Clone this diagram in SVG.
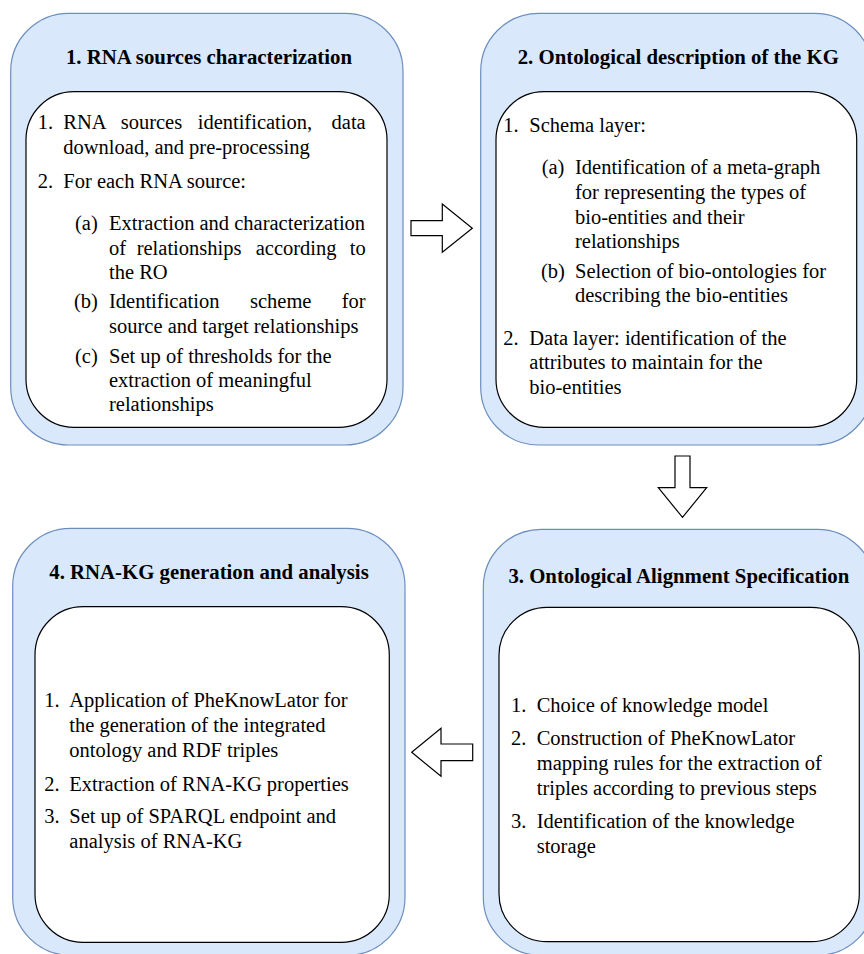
<svg xmlns="http://www.w3.org/2000/svg" width="864" height="954" viewBox="0 0 864 954">
<style>
.outer{fill:#dae8fc;stroke:#6c8ebf;stroke-width:1.2}
.inner{fill:#ffffff;stroke:#000000;stroke-width:1.2}
.title{font-family:"Liberation Serif","Times New Roman",serif;font-weight:bold;font-size:20.8px;fill:#000;text-anchor:middle}
.t{font-family:"Liberation Serif","Times New Roman",serif;font-size:20.5px;fill:#000}
.e{text-anchor:end}
.arrow{fill:#ffffff;stroke:#000000;stroke-width:1.2}
</style>
<rect width="864" height="954" fill="#ffffff"/>
<g id="n1">
<rect class="outer" x="10.7" y="13.3" width="392.3" height="431.7" rx="58"/>
<rect class="inner" x="26" y="91.7" width="361" height="335.6" rx="48"/>
<text class="title" x="209" y="63.5">1. RNA sources characterization</text>
<text class="t" y="129.3"><tspan x="37.7">1.</tspan><tspan x="63.3">RNA</tspan><tspan x="120.7">sources</tspan><tspan x="197.7">identification,</tspan><tspan class="e" x="365.7">data</tspan></text>
<text class="t" x="63.3" y="154">download, and pre-processing</text>
<text class="t" y="188.3"><tspan x="37.7">2.</tspan><tspan x="63.3">For each RNA source:</tspan></text>
<text class="t" y="230"><tspan x="75">(a)</tspan><tspan x="109">Extraction and characterization</tspan></text>
<text class="t" y="255"><tspan x="109">of</tspan><tspan x="136.7">relationships</tspan><tspan x="255.7">according</tspan><tspan class="e" x="365.7">to</tspan></text>
<text class="t" x="109" y="279.3">the RO</text>
<text class="t" y="308.3"><tspan x="74">(b)</tspan><tspan x="109">Identification</tspan><tspan x="250">scheme</tspan><tspan class="e" x="365.7">for</tspan></text>
<text class="t" x="109" y="333.3">source and target relationships</text>
<text class="t" y="362.7"><tspan x="75">(c)</tspan><tspan x="109">Set up of thresholds for the</tspan></text>
<text class="t" x="109" y="387.3">extraction of meaningful</text>
<text class="t" x="109" y="411">relationships</text>
</g>
<g id="n2">
<rect class="outer" x="480.7" y="13.3" width="392" height="431.7" rx="58"/>
<rect class="inner" x="496" y="91.7" width="360.7" height="335.6" rx="48"/>
<text class="title" x="678.3" y="64">2. Ontological description of the KG</text>
<text class="t" y="132.3"><tspan x="503.3">1.</tspan><tspan x="529.3">Schema layer:</tspan></text>
<text class="t" y="174"><tspan x="541.7">(a)</tspan><tspan x="575">Identification of a meta-graph</tspan></text>
<text class="t" x="575" y="199">for representing the types of</text>
<text class="t" x="575" y="223.7">bio-entities and their</text>
<text class="t" x="575" y="248">relationships</text>
<text class="t" y="277.7"><tspan x="541">(b)</tspan><tspan x="575">Selection of bio-ontologies for</tspan></text>
<text class="t" x="575" y="302.3">describing the bio-entities</text>
<text class="t" y="345"><tspan x="503.3">2.</tspan><tspan x="529.3">Data layer: identification of the</tspan></text>
<text class="t" x="529.3" y="369.3">attributes to maintain for the</text>
<text class="t" x="529.3" y="394">bio-entities</text>
</g>
<g id="n3">
<rect class="outer" x="483.3" y="529.3" width="392" height="426" rx="58"/>
<rect class="inner" x="499" y="607.3" width="360.3" height="334.4" rx="48"/>
<text class="title" x="678.8" y="582.7">3. Ontological Alignment Specification</text>
<text class="t" y="711.7"><tspan x="511">1.</tspan><tspan x="536.7">Choice of knowledge model</tspan></text>
<text class="t" y="745"><tspan x="511">2.</tspan><tspan x="536.7">Construction of PheKnowLator</tspan></text>
<text class="t" x="536.7" y="770">mapping rules for the extraction of</text>
<text class="t" x="536.7" y="795">triples according to previous steps</text>
<text class="t" y="828.3"><tspan x="511">3.</tspan><tspan x="536.7">Identification of the knowledge</tspan></text>
<text class="t" x="536.7" y="852.7">storage</text>
</g>
<g id="n4">
<rect class="outer" x="12.7" y="528.3" width="392.3" height="427" rx="58"/>
<rect class="inner" x="35" y="606.7" width="354.3" height="335.6" rx="48"/>
<text class="title" x="209" y="579.3">4. RNA-KG generation and analysis</text>
<text class="t" y="707.3"><tspan x="44.3">1.</tspan><tspan x="69.3">Application of PheKnowLator for</tspan></text>
<text class="t" x="69.3" y="732.3">the generation of the integrated</text>
<text class="t" x="69.3" y="756.7">ontology and RDF triples</text>
<text class="t" y="791"><tspan x="44.3">2.</tspan><tspan x="69.3">Extraction of RNA-KG properties</tspan></text>
<text class="t" y="823.3"><tspan x="44.3">3.</tspan><tspan x="69.3">Set up of SPARQL endpoint and</tspan></text>
<text class="t" x="69.3" y="848.3">analysis of RNA-KG</text>
</g>
<g id="connectors">
<polygon class="arrow" points="411,220.7 442.3,220.7 442.3,204 472.3,228.3 442.3,252.3 442.3,235.7 411,235.7"/>
<polygon class="arrow" points="675,456 690,456 690,487.7 706.7,487.7 682.5,517.3 658.3,487.7 675,487.7"/>
<polygon class="arrow" points="472.7,744 441,744 441,728.3 411.7,752.3 441,776.3 441,760.6 472.7,760.6"/>
</g>
</svg>
